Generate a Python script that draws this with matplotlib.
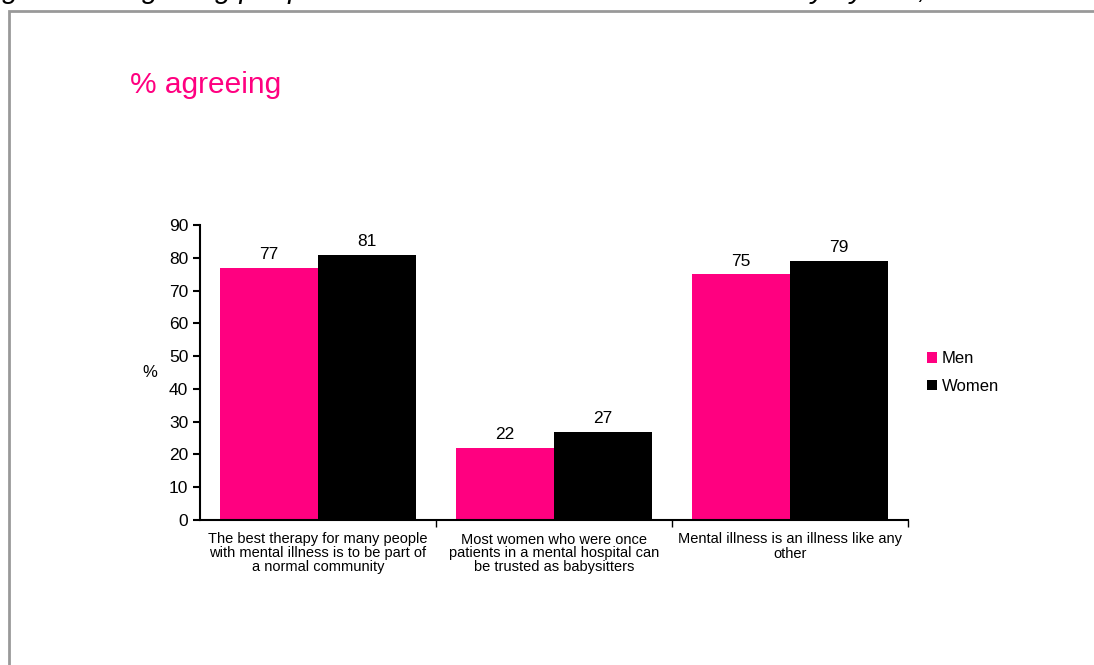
import matplotlib.pyplot as plt
import matplotlib.patches as mpatches
import numpy as np

plt.rcParams['font.family'] = ['Liberation Sans', 'DejaVu Sans']

categories = [
    "The best therapy for many people\nwith mental illness is to be part of\na normal community",
    "Most women who were once\npatients in a mental hospital can\nbe trusted as babysitters",
    "Mental illness is an illness like any\nother",
]
men = [77, 22, 75]
women = [81, 27, 79]
yticks = [0, 10, 20, 30, 40, 50, 60, 70, 80, 90]

pink = '#FF0080'
W, H = 1094, 665
fig = plt.figure(figsize=(W / 100, H / 100), dpi=100)

# grey frame running off the right and bottom edges
fig.patches.append(mpatches.Rectangle((8.5 / W, -0.1), 1.2, 1 - 10.5 / H + 0.1,
                                      transform=fig.transFigure, fill=False,
                                      edgecolor='#999999', linewidth=2))

# figure caption, mostly cut off by the top edge
fig.text(-22 / W, 1 + 2 / H,
         "Figure 3 Integrating people with mental illness into the community by sex, 1998",
         fontsize=21, style='italic', va='baseline', ha='left', color='black')

fig.text(130 / W, 1 - 93 / H, "% agreeing", fontsize=21.5, color=pink, va='baseline')

ax = fig.add_axes([200 / W, 1 - 520 / H, 708 / W, 295 / H])
x = np.arange(len(categories))
bw = 0.415
b1 = ax.bar(x - bw / 2, men, bw, color=pink, label='Men')
b2 = ax.bar(x + bw / 2, women, bw, color='black', label='Women')
for bars, vals in ((b1, men), (b2, women)):
    for r, v in zip(bars, vals):
        ax.annotate(str(v), (r.get_x() + r.get_width() / 2, v), xytext=(0, 4),
                    textcoords='offset points', ha='center', va='bottom', fontsize=12.5)

ax.set_xlim(-0.5, 2.5)
ax.set_ylim(0, 90)
ax.set_yticks(yticks)
ax.tick_params(axis='y', labelsize=12.5, length=5, width=1.5, direction='out')
ax.set_xticks(x)
ax.set_xticklabels(categories, fontsize=10.5, linespacing=1.0)
ax.tick_params(axis='x', which='major', length=0, pad=9)
ax.set_xticks([0.5, 1.5, 2.5], minor=True)
ax.tick_params(axis='x', which='minor', length=5, width=1)
for s in ('top', 'right'):
    ax.spines[s].set_visible(False)
for s in ('left', 'bottom'):
    ax.spines[s].set_linewidth(1.5)

ax.set_ylabel('%', rotation=0, fontsize=12, labelpad=14, va='center')

ax.legend(loc='center left', bbox_to_anchor=(1.005, 0.5), frameon=False, fontsize=12,
          handlelength=0.6, handleheight=0.6, handletextpad=0.3, labelspacing=0.75)

fig.savefig('out.png', dpi=100)
